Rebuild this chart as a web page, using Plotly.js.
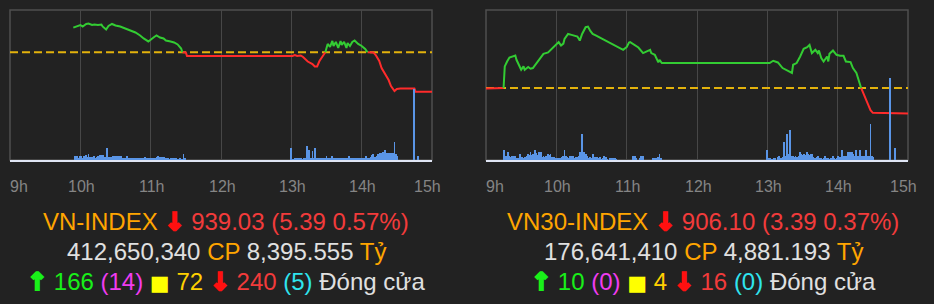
<!DOCTYPE html>
<html>
<head>
<meta charset="utf-8">
<script src="https://cdn.plot.ly/plotly-3.0.1.min.js"></script>
<style>
  html, body { margin: 0; padding: 0; background: #222222; }
  #chart { width: 934px; height: 304px; }
</style>
</head>
<body>
<div id="chart"></div>
<script>
// ---------------- DATA ----------------
const HOUR_TICKS = ["09:00", "10:00", "11:00", "12:00", "13:00", "14:00", "15:00"];
const HOUR_LABELS = ["9h", "10h", "11h", "12h", "13h", "14h", "15h"];

// VN-INDEX intraday
const VN_NAME = "VN-INDEX";
const VN_CLOSE = 939.03;
const VN_CHANGE = 5.39;
const VN_PCT = 0.57;
const VN_VOLUME = "412,650,340";
const VN_VALUE = "8,395.555";
const VN_UP = 166, VN_CEIL = 14, VN_SAME = 72, VN_DOWN = 240, VN_FLOOR = 5;

const VN_TIMES = ["09:54","09:57","10:00","10:02","10:05","10:07","10:10","10:12","10:15","10:18",
  "10:19","10:22","10:24","10:27","10:30","10:34","10:37","10:41","10:44","10:47",
  "10:51","10:54","10:58","11:00","11:03","11:05","11:08","11:11","11:13","11:17",
  "11:20","11:23","11:26","11:27","11:30","11:31","13:01","13:03","13:05","13:08",
  "13:10","13:14","13:18","13:20","13:22","13:24","13:26","13:29","13:31","13:33",
  "13:35","13:36","13:38","13:40","13:42","13:43","13:45","13:47","13:48","13:50",
  "13:52","13:54","13:57","14:00","14:03","14:05","14:10","14:12","14:15","14:17",
  "14:20","14:23","14:25","14:28","14:30","14:33","14:45","14:46","15:00"];
const VN_PRICES = [947.79,948.02,948.15,947.95,948.29,948.36,948.15,948.22,948.15,948.22,
  947.95,947.54,948.02,948.29,948.09,947.95,947.74,947.54,947.27,947.13,
  946.72,946.31,945.90,946.10,946.51,946.72,946.44,946.31,946.03,945.90,
  945.76,945.49,944.94,944.42,944.39,943.91,943.91,944.05,943.91,943.98,
  943.78,943.16,942.82,942.48,942.48,943.23,943.71,944.42,945.56,945.15,
  945.97,945.28,945.83,945.01,945.97,945.42,945.83,945.01,945.69,945.28,
  945.83,946.03,945.56,945.28,944.87,944.42,944.40,944.05,943.23,942.27,
  941.45,940.63,939.81,939.13,939.40,939.47,939.47,939.03,939.03];

// per-minute volume (million shares)
const VN_VOL_AM_START = "09:55";
const VN_VOL_AM = [2.0,2.0,2.0,1.2,1.2,2.0,2.0,1.2,2.0,1.2,
  2.5,1.5,3.0,1.5,1.3,1.3,1.3,2.0,1.2,1.4,
  2.0,1.2,2.5,2.5,2.5,1.5,1.6,1.2,5.8,1.3,
  1.3,1.3,1.3,2.0,2.0,2.0,2.0,1.3,2.0,2.0,
  2.0,1.0,0.8,1.0,1.0,2.0,0.8,0.8,0.8,0.8,
  0.8,0.8,0.8,1.0,0.8,0.8,0.8,0.8,0.8,0.8,
  1.3,0.8,0.8,0.8,0.8,0.8,0.8,0.8,0.8,0.8,
  1.3,2.0,1.3,1.3,1.3,1.3,1.3,0.8,0.8,0.8,
  0.8,0.3,0.8,0.8,0.8,0.8,0.8,0.8,0.3,0.3,
  0.8,0.3,0.3,3.0,0.8];
const VN_VOL_PM_START = "13:00";
const VN_VOL_PM = [6.2,0.3,0.3,0.8,0.8,0.8,0.8,0.8,0.8,0.3,
  0.3,0.8,1.0,7.0,1.5,5.0,1.0,1.0,4.5,1.2,
  5.8,1.0,0.8,0.8,0.8,0.8,0.8,0.8,0.8,1.0,
  2.0,0.8,0.8,0.8,1.0,2.0,0.8,0.8,0.8,0.8,
  0.8,1.0,0.8,0.8,0.8,0.8,0.8,1.0,0.8,2.0,
  0.8,0.8,0.8,0.8,1.0,0.8,0.8,0.8,0.8,0.8,
  0.8,1.0,0.8,0.8,2.0,0.8,1.0,1.2,1.5,2.5,
  3.0,1.5,1.2,2.0,3.0,3.0,3.5,3.5,4.2,3.5,
  5.0,3.5,3.5,3.5,3.5,3.5,3.5,3.5,9.0,3.0,
  2.0];
const VN_VOL_LATE_TIMES = ["14:45", "14:48"];
const VN_VOL_LATE = [35.5, 2.0];
const VN_PRICE_RANGE = [929.7, 950.2];
const VN_VOL_RANGE = [0, 75];

// VN30-INDEX intraday
const V30_NAME = "VN30-INDEX";
const V30_CLOSE = 906.10;
const V30_CHANGE = 3.39;
const V30_PCT = 0.37;
const V30_VOLUME = "176,641,410";
const V30_VALUE = "4,881.193";
const V30_UP = 10, V30_CEIL = 0, V30_SAME = 4, V30_DOWN = 16, V30_FLOOR = 0;

const V30_TIMES = ["09:00","09:14","09:15","09:16","09:18","09:20","09:25","09:26","09:28","09:30",
  "09:32","09:33","09:36","09:38","09:40","09:43","09:46","09:49","09:53","09:56",
  "09:59","10:02","10:04","10:06","10:07","10:10","10:13","10:18","10:20","10:22",
  "10:25","10:27","10:29","10:31","10:34","10:38","10:41","10:46","10:50","10:53",
  "10:57","11:00","11:02","11:03","11:07","11:10","11:14","11:17","11:20","11:21",
  "11:24","11:26","11:27","11:28","11:30","13:00","13:02","13:05","13:09","13:13",
  "13:17","13:21","13:22","13:25","13:28","13:31","13:34","13:36","13:38","13:41",
  "13:43","13:44","13:46","13:48","13:51","13:52","13:53","13:56","13:59","14:02",
  "14:05","14:07","14:11","14:13","14:16","14:18","14:20","14:22","14:24","14:26",
  "14:28","14:30","15:00"];
const V30_PRICES = [909.40,909.40,909.49,912.34,913.00,913.53,913.79,913.22,912.56,911.90,
  912.34,911.90,912.26,912.04,912.13,912.79,913.45,914.01,914.19,914.63,
  915.07,915.56,915.11,915.37,915.99,916.65,916.52,916.30,915.77,916.65,
  917.54,917.62,917.05,916.65,916.43,916.09,915.86,915.43,915.11,914.90,
  914.54,914.90,915.50,915.56,915.20,914.85,914.11,914.32,914.54,914.11,
  913.88,913.22,912.87,913.22,912.79,912.79,912.79,913.09,912.87,912.13,
  911.81,911.47,912.56,912.79,913.66,914.67,914.90,915.20,914.11,914.54,
  914.11,914.45,913.45,913.00,913.66,913.00,914.01,914.45,913.88,913.75,
  913.75,913.00,912.92,912.13,911.47,910.58,909.49,908.83,907.95,907.29,
  906.54,906.19,906.10];

const V30_VOL_AM_START = "09:15";
const V30_VOL_AM = [2.5,1.0,1.0,0.8,1.9,1.0,0.8,1.0,1.0,0.8,
  1.0,0.5,0.5,0.5,1.5,0.7,0.7,0.5,0.7,0.7,
  1.0,1.5,1.3,1.9,1.2,1.5,1.0,2.5,1.7,1.2,
  1.9,1.0,2.1,0.8,1.0,0.7,1.0,0.5,1.5,1.2,
  1.5,0.7,0.7,0.7,0.5,0.5,0.5,0.5,0.5,0.5,
  0.7,1.0,2.5,1.0,0.7,0.5,0.5,1.0,1.0,1.0,
  0.5,0.5,0.7,0.7,1.0,1.9,1.5,6.5,1.9,1.9,
  1.5,1.0,0.5,0.5,0.7,0.5,1.5,0.7,0.3,0.7,
  0.7,0.5,0.7,0.3,0.3,0.5,1.0,0.7,0.3,0,
  0,0.4,0.4,0.4,0.4,0.4,0.3,0,0,0,
  0,0,0,0,0,0,0,0,0,0,
  1.0,1.0,1.0,0.5,0,0,0.5,1.0,1.0,1.0,
  0,0,0,0,0,0,0,0.5,0.5,0.5,
  0.5,0.5,0.7,1.5,0.5,0];
const V30_VOL_PM_START = "13:00";
const V30_VOL_PM = [2.5,0.5,0.5,0.3,0.3,0,0.5,0.5,0,0.7,
  1.0,0.5,0.5,0.8,4.6,1.0,0.5,6.5,1.5,7.5,
  1.0,0.7,1.0,0.7,1.0,0.7,0.5,1.0,1.9,1.5,
  1.2,1.5,1.0,1.2,1.9,1.5,1.2,1.5,1.5,0.7,
  0.5,0.5,0.7,1.0,0.5,0.3,0.5,0.3,0.5,1.0,
  0.5,0.3,0.5,0.3,0.5,0.5,1.0,0.5,0.3,0.5,
  1.0,0.5,0.7,0.7,2.5,1.0,1.0,0.8,1.0,1.9,
  1.9,1.9,1.9,1.5,1.0,1.0,2.5,1.0,1.0,2.5,
  1.0,1.0,1.0,1.0,2.5,1.0,1.0,1.0,9.0,1.0,
  0.8];
const V30_VOL_LATE_TIMES = ["14:45", "14:49"];
const V30_VOL_LATE = [20.5, 3.0];
const V30_PRICE_RANGE = [899.94, 919.82];
const V30_VOL_RANGE = [0, 37.5];

// ---------------- HELPERS ----------------
const W = 934, H = 304;
const C = {
  bg: '#222222', grid: '#474747', border: '#4f4f4f', base: '#dfe5f4',
  up: '#33cc33', down: '#ff2b2b', ref: '#e3b20c', vol: '#5a95e6',
  tick: '#858585', orange: '#ffa500', redTxt: '#f23b3b', arrowRed: '#ff1010',
  grey: '#e0e0e0', green: '#19f019', magenta: '#f03cf0', yellowSq: '#ffff00',
  gold: '#ffd000', cyan: '#2fe4ee'
};
function toMin(t) { const [h, m] = t.split(':').map(Number); return (h - 9) * 60 + m; }

function splitLine(times, prices, ref) {
  const x = times.map(toMin);
  const n = prices.length;
  const eps = 1e-6;
  const segGreen = [];
  for (let i = 1; i < n; i++) segGreen.push(Math.min(prices[i - 1], prices[i]) >= ref - eps);
  const g = [], r = [];
  for (let i = 0; i < n; i++) {
    const left = i > 0 ? segGreen[i - 1] : null;
    const right = i < n - 1 ? segGreen[i] : null;
    g.push(left === true || right === true ? prices[i] : null);
    r.push(left === false || right === false ? prices[i] : null);
  }
  return { x, g, r };
}

function volSeries(amStart, am, pmStart, pm, lateTimes, late) {
  const x = [], y = [];
  const a0 = toMin(amStart), p0 = toMin(pmStart);
  am.forEach((v, i) => { x.push(a0 + i); y.push(v); });
  pm.forEach((v, i) => { x.push(p0 + i); y.push(v); });
  lateTimes.forEach((t, i) => { x.push(toMin(t)); y.push(late[i]); });
  return { x, y };
}

function panelTraces(times, prices, close, change, volS, xa, ya, ya2) {
  const ref = Math.round((close + change) * 100) / 100;
  const s = splitLine(times, prices, ref);
  const tickMins = HOUR_TICKS.map(toMin);
  return [
    { type: 'scatter', mode: 'lines', x: [tickMins[0], tickMins[tickMins.length - 1]], y: [ref, ref],
      xaxis: xa, yaxis: ya, line: { color: C.ref, width: 2, dash: '8px,4px' }, hoverinfo: 'skip' },
    { type: 'scatter', mode: 'lines', x: s.x, y: s.r, xaxis: xa, yaxis: ya,
      line: { color: C.down, width: 2 }, connectgaps: false, hoverinfo: 'skip' },
    { type: 'scatter', mode: 'lines', x: s.x, y: s.g, xaxis: xa, yaxis: ya,
      line: { color: C.up, width: 2 }, connectgaps: false, hoverinfo: 'skip' },
    { type: 'bar', x: volS.x, y: volS.y, width: 1.6, xaxis: xa, yaxis: ya2,
      marker: { color: C.vol, line: { width: 0 } }, hoverinfo: 'skip' }
  ];
}

const vnVol = volSeries(VN_VOL_AM_START, VN_VOL_AM, VN_VOL_PM_START, VN_VOL_PM, VN_VOL_LATE_TIMES, VN_VOL_LATE);
const v30Vol = volSeries(V30_VOL_AM_START, V30_VOL_AM, V30_VOL_PM_START, V30_VOL_PM, V30_VOL_LATE_TIMES, V30_VOL_LATE);

const traces = [
  ...panelTraces(VN_TIMES, VN_PRICES, VN_CLOSE, VN_CHANGE, vnVol, 'x', 'y', 'y2'),
  ...panelTraces(V30_TIMES, V30_PRICES, V30_CLOSE, V30_CHANGE, v30Vol, 'x2', 'y3', 'y4')
];

const tickMins = HOUR_TICKS.map(toMin);
const yDom = [1 - 160 / H, 1 - 10 / H];
function xAxis(dom, anchor) {
  return {
    domain: dom, anchor: anchor, range: [tickMins[0], tickMins[tickMins.length - 1]],
    tickvals: tickMins, showticklabels: false, ticks: '', showgrid: true,
    gridcolor: C.grid, gridwidth: 1, zeroline: false,
    showline: true, linecolor: C.base, linewidth: 2, mirror: false, fixedrange: true
  };
}
function yAxis(range, anchor, overlay) {
  const a = { range: range, anchor: anchor, visible: false, showgrid: false, zeroline: false, fixedrange: true };
  if (overlay) a.overlaying = overlay; else a.domain = yDom;
  return a;
}

function span(color, text, extra) {
  return '<span style="color:' + color + (extra ? ';' + extra : '') + '">' + text + '</span>';
}
function arrowStyle(color) {
  return 'font-family:DejaVu Sans;font-weight:bold;stroke:' + color + ';stroke-width:2.2px';
}
function summaryLines(name, close, change, pct, vol, value, up, ceil, same, down, floor) {
  return [
    span(C.orange, name) + ' ' + span(C.arrowRed, '↓', arrowStyle(C.arrowRed)) + ' ' +
      span(C.redTxt, close.toFixed(2) + ' (' + change.toFixed(2) + ' ' + pct.toFixed(2) + '%)'),
    span(C.grey, vol) + ' ' + span(C.orange, 'CP') + ' ' + span(C.grey, value) + ' ' + span(C.orange, 'Tỷ'),
    span(C.green, '↑', arrowStyle(C.green)) + ' ' + span(C.green, String(up)) + ' ' +
      span(C.magenta, '(' + ceil + ')') + ' ' + span(C.yellowSq, '■', 'font-family:DejaVu Sans;font-size:21px') + ' ' +
      span(C.gold, String(same)) + ' ' + span(C.arrowRed, '↓', arrowStyle(C.arrowRed)) + ' ' +
      span(C.redTxt, String(down)) + ' ' + span(C.cyan, '(' + floor + ')') + ' ' + span(C.grey, 'Đóng cửa')
  ];
}

const annotations = [];
const lineY = [221.7, 251.7, 282.3];
function addSummary(lines, cx) {
  lines.forEach((t, i) => annotations.push({
    text: t, xref: 'paper', yref: 'paper', x: cx / W, y: 1 - lineY[i] / H,
    xanchor: 'center', yanchor: 'middle', showarrow: false,
    font: { family: 'Liberation Sans, Arial, sans-serif', size: 24, color: C.grey }
  }));
}
addSummary(summaryLines(VN_NAME, VN_CLOSE, VN_CHANGE, VN_PCT, VN_VOLUME, VN_VALUE, VN_UP, VN_CEIL, VN_SAME, VN_DOWN, VN_FLOOR), 226);
addSummary(summaryLines(V30_NAME, V30_CLOSE, V30_CHANGE, V30_PCT, V30_VOLUME, V30_VALUE, V30_UP, V30_CEIL, V30_SAME, V30_DOWN, V30_FLOOR), 703);

function addTickLabels(xref) {
  HOUR_LABELS.forEach((lab, i) => {
    const first = i === 0, last = i === HOUR_LABELS.length - 1;
    annotations.push({
      text: lab, xref: xref, yref: 'paper', x: tickMins[i], y: 1 - 186 / H,
      xanchor: 'center', yanchor: 'middle', showarrow: false,
      xshift: first ? 9 : (last ? -4.5 : 1),
      font: { family: 'Liberation Sans, Arial, sans-serif', size: 16, color: C.tick }
    });
  });
}
addTickLabels('x');
addTickLabels('x2');

const shapes = [
  { type: 'rect', xref: 'x domain', yref: 'y domain', x0: 0, x1: 1, y0: 0, y1: 1,
    line: { color: C.border, width: 1.5 }, layer: 'below' },
  { type: 'rect', xref: 'x2 domain', yref: 'y3 domain', x0: 0, x1: 1, y0: 0, y1: 1,
    line: { color: C.border, width: 1.5 }, layer: 'below' }
];

const layout = {
  width: W, height: H, margin: { l: 0, r: 0, t: 0, b: 0, pad: 0 },
  paper_bgcolor: C.bg, plot_bgcolor: C.bg, showlegend: false, bargap: 0,
  xaxis: xAxis([10 / W, 432 / W], 'y'),
  yaxis: yAxis(VN_PRICE_RANGE, 'x'),
  yaxis2: yAxis(VN_VOL_RANGE, 'x', 'y'),
  xaxis2: xAxis([486 / W, 908 / W], 'y3'),
  yaxis3: yAxis(V30_PRICE_RANGE, 'x2'),
  yaxis4: yAxis(V30_VOL_RANGE, 'x2', 'y3'),
  annotations: annotations, shapes: shapes,
  font: { family: 'Liberation Sans, Arial, sans-serif' }
};

Plotly.newPlot('chart', traces, layout, { staticPlot: true, displayModeBar: false });
</script>
</body>
</html>
